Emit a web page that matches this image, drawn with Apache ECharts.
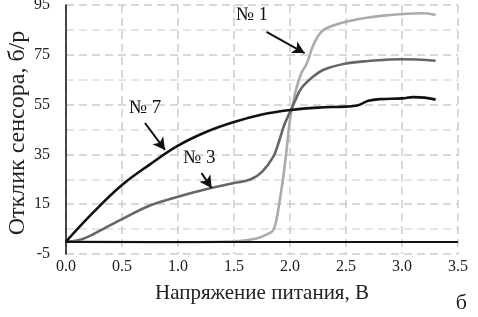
<!DOCTYPE html>
<html><head><meta charset="utf-8">
<script src="https://cdn.jsdelivr.net/npm/echarts@6/dist/echarts.min.js"></script>
<style>html,body{margin:0;padding:0;background:#fff}#c{width:478px;height:317px}</style>
</head><body><div id="c"></div>
<script>
const xTicks = ['0.0','0.5','1.0','1.5','2.0','2.5','3.0','3.5'];
const yTicks = ['-5','15','35','55','75','95'];
const yTitle = 'Отклик сенсора, б/р';
const xTitle = 'Напряжение питания, В';

const s7X = [0, 0.25, 0.5, 0.75, 1.0, 1.25, 1.5, 1.75, 2.0, 2.25, 2.5, 2.6, 2.7, 2.8, 3.0, 3.1, 3.2, 3.3];
const s7Y = [0, 12, 22.7, 31, 38.5, 44, 48, 51, 52.8, 53.8, 54.2, 54.6, 56.5, 57.2, 57.5, 58, 57.8, 57];

const s3X = [0, 0.1, 0.2, 0.35, 0.5, 0.75, 1.0, 1.25, 1.5, 1.65, 1.75, 1.85, 1.9, 1.95, 2.0, 2.05, 2.1, 2.2, 2.3, 2.5, 2.7, 3.0, 3.3];
const s3Y = [0, 0.4, 2, 5.5, 9, 14.5, 18, 21, 23.5, 25, 28, 34, 40, 47, 52, 57, 61.5, 66, 69, 71.5, 72.5, 73.2, 72.6];

const s1X = [0, 0.5, 1.0, 1.5, 1.7, 1.8, 1.85, 1.88, 1.91, 1.94, 1.97, 2.0, 2.03, 2.06, 2.1, 2.15, 2.2, 2.25, 2.3, 2.4, 2.5, 2.7, 2.9, 3.1, 3.2, 3.3];
const s1Y = [0, -0.2, -0.3, 0, 1.2, 3, 4.6, 9, 17, 26, 37, 49, 56, 62, 67.5, 71.5, 78, 82.5, 85, 87, 88.3, 90, 91, 91.6, 91.7, 91];

const labelNames = ['№ 1', '№ 7', '№ 3'];
const labelPos = [[1.66, 91], [0.705, 53.6], [1.19, 33.6]];
const arrowFrom = [[1.79, 84.2], [0.705, 47.6], [1.21, 27.5]];
const arrowTo = [[2.13, 75.7], [0.884, 36.8], [1.30, 21.5]];

const serif = 'Liberation Serif';
const zip = (xs, ys) => xs.map((x, i) => [x, ys[i]]);

const chart = echarts.init(document.getElementById('c'));
chart.setOption({
  animation: false,
  textStyle: {fontFamily: serif},
  grid: {left: 66, right: 20, top: 5, bottom: 63, containLabel: false, outerBoundsMode: 'none'},
  xAxis: {
    type: 'value', min: 0, max: 3.5, interval: 0.5,
    axisLine: {show: false, onZero: false},
    axisTick: {show: false},
    axisLabel: {color: '#222', fontFamily: serif, fontSize: 16, margin: 5,
      formatter: v => xTicks[Math.round(v / 0.5)]},
    splitLine: {show: true, lineStyle: {color: '#cccccc', width: 1.5, type: [8, 5]}},
    name: xTitle, nameLocation: 'middle', nameGap: 29,
    nameTextStyle: {color: '#222', fontFamily: serif, fontSize: 21}
  },
  yAxis: {
    type: 'value', min: -5, max: 95, interval: 20,
    axisLine: {show: true, onZero: false, lineStyle: {color: '#111', width: 1.5}},
    axisTick: {show: false},
    axisLabel: {color: '#222', fontFamily: serif, fontSize: 16, margin: 16,
      formatter: v => yTicks[Math.round((v + 5) / 20)]},
    splitLine: {show: true, lineStyle: {color: '#cccccc', width: 1.5, type: [8, 5]}},
    minorTick: {show: false, splitNumber: 2},
    minorSplitLine: {show: true, lineStyle: {color: '#dddddd', width: 1.5, type: [8, 5]}}
  },
  graphic: [
    {type: 'text', x: 18, y: 133, rotation: Math.PI / 2,
      style: {text: yTitle, font: '24px "Liberation Serif"', fill: '#222', align: 'center', verticalAlign: 'middle'}},
    {type: 'text', right: 11, bottom: 3,
      style: {text: 'б', font: '22px "Liberation Serif"', fill: '#222'}}
  ],
  series: [
    {
      name: '№ 7', type: 'line', data: zip(s7X, s7Y), showSymbol: false,
      smooth: 0.4,
      lineStyle: {color: '#111111', width: 2.6}, z: 5,
      markLine: {
        silent: true, symbol: ['none', 'none'], label: {show: false},
        lineStyle: {color: '#111', width: 2, type: 'solid'},
        data: [[{coord: [0, 0]}, {coord: [3.5, 0]}]]
      }
    },
    {
      name: '№ 3', type: 'line', data: zip(s3X, s3Y), showSymbol: false,
      smooth: 0.4,
      lineStyle: {color: '#666666', width: 2.6}, z: 4
    },
    {
      name: '№ 1', type: 'line', data: zip(s1X, s1Y), showSymbol: false,
      smooth: 0.4,
      lineStyle: {color: '#ababab', width: 2.6}, z: 3
    },
    {
      name: 'annot', type: 'line', data: [], z: 6,
      markLine: {
        silent: true, symbol: ['none', 'arrow'], symbolSize: [10, 12],
        label: {show: false},
        lineStyle: {color: '#111', width: 2, type: 'solid'},
        data: arrowFrom.map((f, i) => [{coord: f}, {coord: arrowTo[i]}])
      },
      markPoint: {
        silent: true, symbol: 'circle', symbolSize: 0,
        label: {show: true, position: 'inside', color: '#111', fontFamily: serif, fontSize: 19,
          formatter: p => p.name},
        data: labelNames.map((n, i) => ({name: n, coord: labelPos[i]}))
      }
    }
  ]
});
</script></body></html>
